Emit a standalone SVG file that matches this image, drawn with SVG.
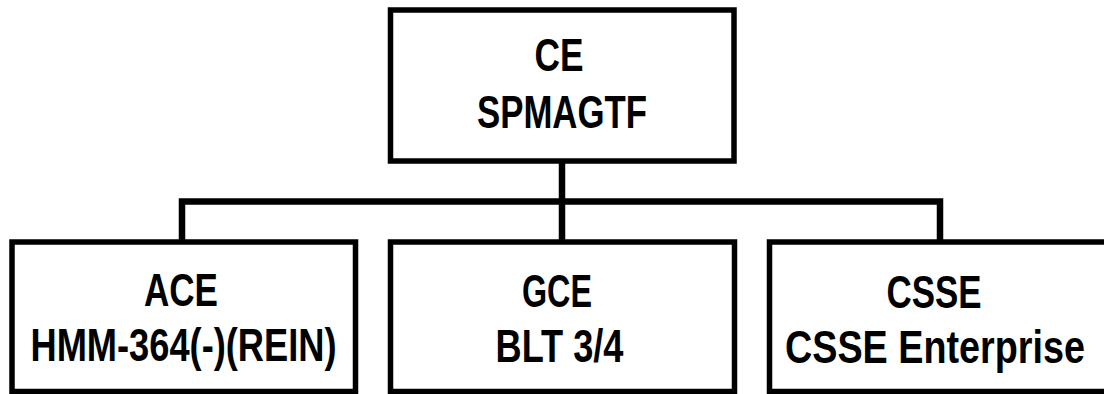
<svg xmlns="http://www.w3.org/2000/svg" width="1104" height="394" viewBox="0 0 1104 394">
  <style>
    .box { fill: #ffffff; stroke: #000000; stroke-width: 5.5; }
    .conn { fill: none; stroke: #000000; stroke-width: 6.5; stroke-linejoin: miter; stroke-linecap: butt; }
    .lbl { font-family: "Liberation Sans Narrow", "Liberation Sans", Arial, sans-serif; font-weight: bold; font-size: 46px; fill: #000000; text-anchor: middle; }
  </style>
  <rect x="0" y="0" width="1104" height="394" fill="#ffffff"/>
  <g id="connectors">
    <path class="conn" d="M182 242 V201.5 H940 V242"/>
    <path class="conn" d="M562 161 V242"/>
  </g>
  <g id="node-ce">
    <rect class="box" x="390.5" y="10" width="343.5" height="151"/>
    <text class="lbl" x="559" y="71" textLength="49" lengthAdjust="spacingAndGlyphs">CE</text>
    <text class="lbl" x="562" y="128" textLength="170" lengthAdjust="spacingAndGlyphs">SPMAGTF</text>
  </g>
  <g id="node-ace">
    <rect class="box" x="12" y="242" width="343.5" height="149.5"/>
    <text class="lbl" x="181" y="305.5" textLength="74" lengthAdjust="spacingAndGlyphs">ACE</text>
    <text class="lbl" x="183.5" y="360.5" textLength="306" lengthAdjust="spacingAndGlyphs">HMM-364(-)(REIN)</text>
  </g>
  <g id="node-gce">
    <rect class="box" x="390.5" y="242" width="344" height="149.5"/>
    <text class="lbl" x="557" y="306.5" textLength="70" lengthAdjust="spacingAndGlyphs">GCE</text>
    <text class="lbl" x="559.5" y="362" textLength="128" lengthAdjust="spacingAndGlyphs">BLT 3/4</text>
  </g>
  <g id="node-csse">
    <rect class="box" x="769.5" y="242" width="338" height="149.5"/>
    <text class="lbl" x="934" y="308" textLength="95" lengthAdjust="spacingAndGlyphs">CSSE</text>
    <text class="lbl" x="935" y="363" textLength="300" lengthAdjust="spacingAndGlyphs">CSSE Enterprise</text>
  </g>
</svg>
